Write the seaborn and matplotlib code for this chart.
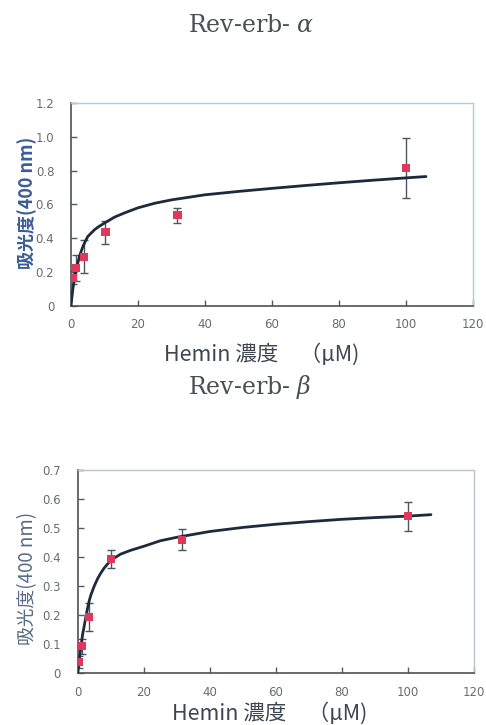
import matplotlib
matplotlib.use("Agg")
import matplotlib.pyplot as plt
import seaborn as sns
import pandas as pd

sns.set_theme(style="white")
plt.rcParams['font.family'] = ['Noto Sans CJK JP', 'DejaVu Sans']
plt.rcParams['mathtext.fontset'] = 'dejavuserif'

# ---------------- data ----------------
titles = ["Rev-erb- $\\alpha$", "Rev-erb- $\\beta$"]
x_ticks = [0, 20, 40, 60, 80, 100, 120]
y_ticks_a = [0, 0.2, 0.4, 0.6, 0.8, 1.0, 1.2]
y_ticklabels_a = ["0", "0.2", "0.4", "0.6", "0.8", "1.0", "1.2"]
y_ticks_b = [0, 0.1, 0.2, 0.3, 0.4, 0.5, 0.6, 0.7]
y_ticklabels_b = ["0", "0.1", "0.2", "0.3", "0.4", "0.5", "0.6", "0.7"]

# measured points (alpha)
conc_a = [0.5, 1.5, 3.9, 10.3, 31.8, 100]
abs_a = [0.167, 0.226, 0.291, 0.437, 0.535, 0.814]
err_a = [0.04, 0.077, 0.098, 0.068, 0.042, 0.177]
# fitted curve (alpha)
fit_x_a = [0, 0.5, 1, 1.5, 2, 2.5, 3, 3.5, 4, 5, 6, 7, 8, 10, 13, 16, 20, 25,
           30, 40, 50, 60, 70, 80, 90, 100, 106]
fit_y_a = [0, 0.09, 0.16, 0.21, 0.25, 0.29, 0.32, 0.347, 0.37, 0.41, 0.43,
           0.45, 0.465, 0.49, 0.525, 0.55, 0.58, 0.607, 0.627, 0.657, 0.677,
           0.695, 0.712, 0.728, 0.743, 0.757, 0.765]

# measured points (beta)
conc_b = [0.3, 1.2, 3.4, 10.2, 31.7, 100]
abs_b = [0.037, 0.093, 0.193, 0.394, 0.460, 0.541]
err_b = [0.02, 0.026, 0.047, 0.031, 0.036, 0.05]
# fitted curve (beta)
fit_x_b = [0, 0.5, 1, 1.5, 2, 2.5, 3, 3.5, 4, 5, 6, 7, 8, 10, 13, 16, 20, 25,
           30, 40, 50, 60, 70, 80, 90, 100, 107]
fit_y_b = [0, 0.05, 0.095, 0.135, 0.165, 0.197, 0.225, 0.25, 0.27, 0.30,
           0.325, 0.345, 0.362, 0.389, 0.41, 0.423, 0.437, 0.456, 0.468,
           0.488, 0.502, 0.513, 0.522, 0.53, 0.536, 0.541, 0.546]

# ---------------- drawing ----------------
fig = plt.figure(figsize=(4.86, 7.25), dpi=100)
ax_a = fig.add_axes([0.146, 0.578, 0.827, 0.280])
ax_b = fig.add_axes([0.160, 0.0717, 0.815, 0.280])

red = "#e0385a"
curve_col = "#1d2a3c"
err_col = "#4a5662"
tick_col = "#676c72"


def draw(ax, cx, cy, ex, ey, ee, yt, ytl, ymax, top_col):
    sns.lineplot(x=cx, y=cy, ax=ax, color=curve_col, linewidth=2.0,
                 zorder=3, estimator=None, sort=False)
    ax.errorbar(ex, ey, yerr=ee, fmt="none", ecolor=err_col, elinewidth=1.0,
                capsize=3, capthick=1.0, zorder=2)
    sns.scatterplot(x=ex, y=ey, ax=ax, marker="s", s=34, color=red,
                    edgecolor="none", zorder=4)
    ax.set_xlim(0, 120)
    ax.set_ylim(0, ymax)
    ax.set_xticks(x_ticks)
    ax.set_xticklabels([str(t) for t in x_ticks])
    ax.set_yticks(yt)
    ax.set_yticklabels(ytl)
    ax.tick_params(axis="both", direction="in", length=4, width=1,
                   color="#555a60", labelsize=8.5, labelcolor=tick_col,
                   left=True, bottom=True)
    ax.tick_params(axis="x", pad=9)
    ax.tick_params(axis="y", pad=12)
    for lab in ax.get_xticklabels() + ax.get_yticklabels():
        lab.set_family(["DejaVu Sans"])
    for s in ["left", "bottom"]:
        ax.spines[s].set_color("#4d5258")
        ax.spines[s].set_linewidth(1.2)
    for s in ["top", "right"]:
        ax.spines[s].set_color(top_col)
        ax.spines[s].set_linewidth(1.0)
    ax.set_xlabel("")
    ax.set_ylabel("")
    ax.grid(False)


draw(ax_a, fit_x_a, fit_y_a, conc_a, abs_a, err_a, y_ticks_a,
     y_ticklabels_a, 1.2, "#9fd6de")
draw(ax_b, fit_x_b, fit_y_b, conc_b, abs_b, err_b, y_ticks_b,
     y_ticklabels_b, 0.7, "#b9c7cc")

# titles
title_fam = ["DejaVu Serif"]
fig.text(251 / 486, 1 - 26 / 725, titles[0], ha="center", va="center",
         fontsize=17, color="#4a4f55", family=title_fam)
fig.text(250 / 486, 1 - 387 / 725, titles[1], ha="center", va="center",
         fontsize=17, color="#4a4f55", family=title_fam)

# x labels
xlab = "Hemin 濃度\u3000（μM)"
fig.text(262 / 486, 1 - 354 / 725, xlab, ha="center", va="center",
         fontsize=15.5, color="#3f4650",
         family=["Noto Sans CJK JP", "DejaVu Sans"])
fig.text(270 / 486, 1 - 713 / 725, xlab, ha="center", va="center",
         fontsize=15.5, color="#3f4650",
         family=["Noto Sans CJK JP", "DejaVu Sans"])

# y labels
fig.text(27 / 486, 1 - 203 / 725, "吸光度(400 nm)", rotation=90,
         ha="center", va="center", fontsize=13, color="#3b5c96",
         fontweight="bold", family=["Noto Sans CJK JP", "DejaVu Sans"])
fig.text(28 / 486, 1 - 578 / 725, "吸光度(400 nm)", rotation=90,
         ha="center", va="center", fontsize=13.5, color="#5a6a86",
         family=["Noto Sans CJK JP", "DejaVu Sans"])

fig.savefig("out.png", dpi=100)
